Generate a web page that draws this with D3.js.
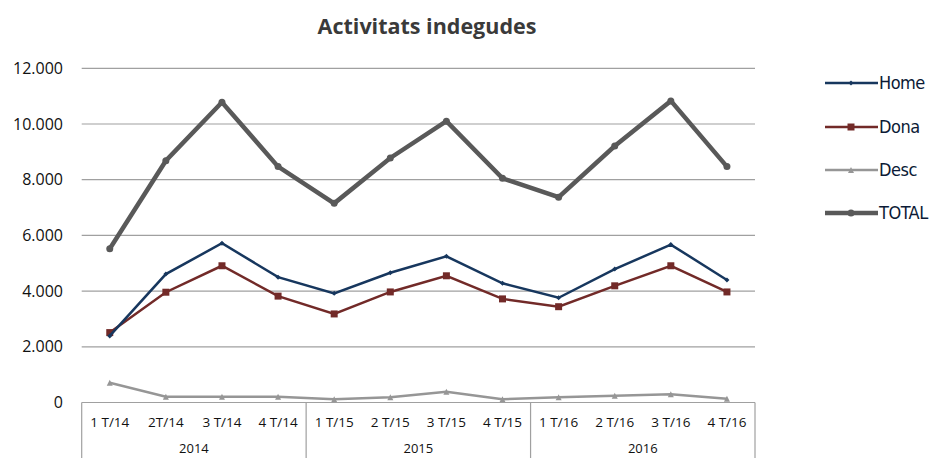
<!DOCTYPE html>
<html><head><meta charset="utf-8">
<script src="https://cdn.jsdelivr.net/npm/d3@7/dist/d3.min.js"></script>
<style>body{margin:0;background:#fff;}svg{display:block;}</style>
</head><body>
<svg id="c" width="944" height="458"></svg>
<script>
const categories = ["1 T/14","2T/14","3 T/14","4 T/14","1 T/15","2 T/15","3 T/15","4 T/15","1 T/16","2 T/16","3 T/16","4 T/16"];
const years = ["2014","2015","2016"];
const home  = [2390,4610,5720,4500,3920,4660,5250,4280,3760,4790,5670,4400];
const dona  = [2510,3960,4910,3820,3180,3970,4550,3720,3440,4190,4910,3970];
const desc  = [710,210,210,210,115,190,390,115,190,245,295,135];
const total = [5520,8680,10780,8470,7150,8780,10100,8050,7370,9210,10830,8470];
const yTicks = [0,2000,4000,6000,8000,10000,12000];
const seriesNames = ["Home","Dona","Desc","TOTAL"];

const svg = d3.select("#c");
const font = "Open Sans, sans-serif";
const L = 81.7, R = 755, Y0 = 402.5, Ytop = 68.3;
const x = d3.scaleBand().domain(categories).range([L, R]).padding(0);
const y = d3.scaleLinear().domain([0, 12000]).range([Y0, Ytop]);
const cx = c => x(c) + x.bandwidth()/2;
const fmt = v => d3.format(",")(v).replace(/,/g, ".");

// title
svg.append("text").attr("x", 427).attr("y", 34).attr("text-anchor","middle")
  .attr("font-family", font).attr("font-weight","bold").attr("font-size", 21.5)
  .attr("fill","#3a3a3a").text("Activitats indegudes");

// gridlines
svg.append("g").selectAll("line").data(yTicks.filter(d=>d>0)).join("line")
  .attr("x1", L).attr("x2", R).attr("y1", d=>y(d)).attr("y2", d=>y(d))
  .attr("stroke","#a0a0a0").attr("stroke-width",1.2);

// y axis labels
const yAxis = d3.axisLeft(y).tickValues(yTicks).tickFormat(fmt).tickSize(0).tickPadding(0);
const ga = svg.append("g").attr("transform", `translate(63,0)`).call(yAxis);
ga.select(".domain").remove();
ga.selectAll("text").attr("font-family", font).attr("font-size", 16).attr("fill","#111");

// x axis box
const gx = svg.append("g");
gx.append("line").attr("x1", L).attr("x2", R).attr("y1", Y0).attr("y2", Y0).attr("stroke","#a0a0a0").attr("stroke-width",1.2);
const bounds = [0,4,8,12].map(i => i < 12 ? x(categories[i]) : R);
gx.selectAll("line.v").data(bounds).join("line").attr("class","v")
  .attr("x1", d=>d).attr("x2", d=>d).attr("y1", Y0).attr("y2", 470)
  .attr("stroke","#a0a0a0").attr("stroke-width",1.2);
const xAxis = d3.axisBottom(x).tickSize(0).tickPadding(0);
const gxa = svg.append("g").attr("transform", `translate(0,${Y0})`).call(xAxis);
gxa.select(".domain").remove();
gxa.selectAll("text").attr("font-family", font).attr("font-size", 13.5).attr("fill","#111")
  .attr("dy", null).attr("y", 24);
gx.selectAll("text.yr").data(years).join("text").attr("class","yr")
  .attr("x", (d,i) => (bounds[i]+bounds[i+1])/2).attr("y", 453)
  .attr("text-anchor","middle").attr("font-family", font).attr("font-size", 13).attr("fill","#111")
  .text(d=>d);

// series
const series = [
  {name:"Home", vals:home, color:"#17375e", w:2.5, marker:"diamond", ms:5},
  {name:"Dona", vals:dona, color:"#722a28", w:2.5, marker:"square", ms:7},
  {name:"Desc", vals:desc, color:"#969696", w:2.5, marker:"triangle", ms:6},
  {name:"TOTAL", vals:total, color:"#595959", w:4.5, marker:"circle", ms:7}
];
const markerPath = (m, s) => {
  if (m==="diamond") return `M0,${-s/2}L${s/2},0L0,${s/2}L${-s/2},0Z`;
  if (m==="square") return `M${-s/2},${-s/2}h${s}v${s}h${-s}Z`;
  if (m==="triangle") return `M0,${-s/2}L${s/2},${s/2}L${-s/2},${s/2}Z`;
  return d3.symbol(d3.symbolCircle, Math.PI*(s/2)*(s/2))();
};
const line = d3.line().x((d,i)=>cx(categories[i])).y(d=>y(d));
const order = ["Desc","Dona","Home","TOTAL"];
order.forEach(n => {
  const s = series.find(q=>q.name===n);
  const g = svg.append("g");
  g.append("path").attr("d", line(s.vals)).attr("fill","none").attr("stroke", s.color)
    .attr("stroke-width", s.w).attr("stroke-linejoin","miter");
  g.selectAll("path.m").data(s.vals).join("path").attr("class","m")
    .attr("transform",(d,i)=>`translate(${cx(categories[i])},${y(d)})`)
    .attr("d", markerPath(s.marker, s.ms)).attr("fill", s.color);
});

// legend
const legY = [83, 127, 170, 213];
series.forEach((s,i) => {
  const g = svg.append("g").attr("transform", `translate(0,${legY[i]})`);
  g.append("line").attr("x1", 825).attr("x2", 878).attr("stroke", s.color).attr("stroke-width", s.w);
  g.append("path").attr("transform","translate(851,0)").attr("d", markerPath(s.marker, s.ms)).attr("fill", s.color);
  g.append("text").attr("x", 879).attr("y", 0).attr("dy","0.35em").attr("font-family","DejaVu Sans Condensed, sans-serif")
    .attr("font-size", 18).attr("letter-spacing", -0.5).attr("fill","#0b1a36").text(s.name);
});
</script>
</body></html>
